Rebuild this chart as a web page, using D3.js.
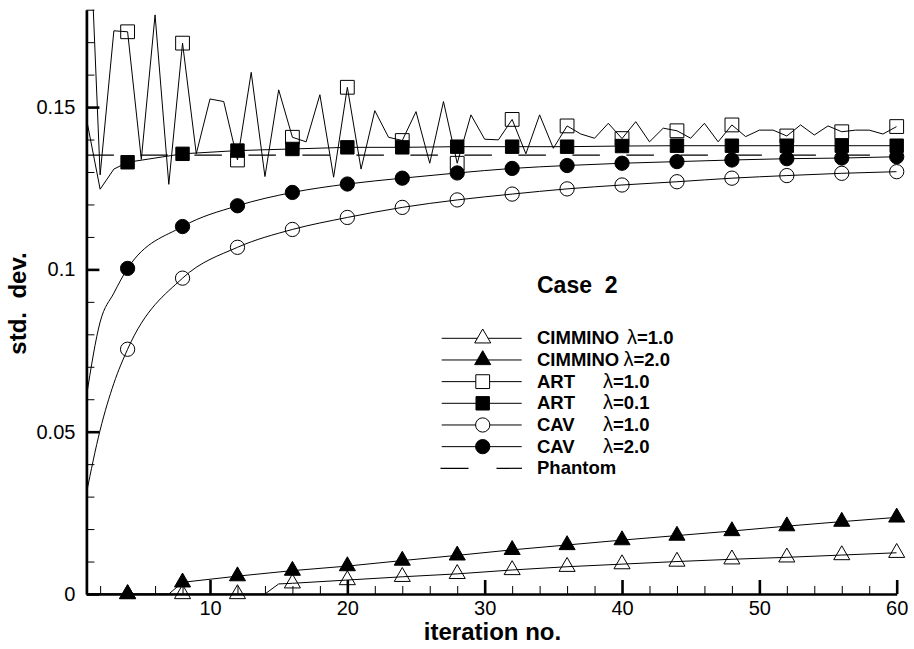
<!DOCTYPE html>
<html>
<head>
<meta charset="utf-8">
<script src="https://cdn.jsdelivr.net/npm/d3@7"></script>
<style>
  html, body { margin: 0; padding: 0; background: #fff; }
  svg { display: block; font-family: "Liberation Sans", Arial, Helvetica, sans-serif; }
  text { white-space: pre; }
</style>
</head>
<body>
<div class="chart"></div>
<script>
// iteration numbers of the sparse series
const cavIters = [1, 2, 3, 4, 8, 12, 16, 20, 24, 28, 32, 36, 40, 44, 48, 52, 56, 60];
const cim1Iters = [1, 4, 8, 12, 14, 15, 16, 20, 24, 28, 32, 36, 40, 44, 48, 52, 56, 60];
const cim2Iters = [1, 4, 7, 8, 12, 16, 20, 24, 28, 32, 36, 40, 44, 48, 52, 56, 60];
const artIters = d3.range(1, 61);
const phantomIters = [1, 60];

// std. dev. values
const cimmino1 = [0, 0, 0, 0, 0, 0.0031, 0.0033, 0.0043, 0.0053, 0.0062, 0.0074, 0.0084, 0.0092, 0.0100, 0.0107, 0.0113, 0.0120, 0.0127];
const cimmino2 = [0, 0, 0, 0.0036, 0.0055, 0.0072, 0.0086, 0.0103, 0.0119, 0.0136, 0.0151, 0.0166, 0.0180, 0.0194, 0.0209, 0.0223, 0.0236];
const art1 = [0.231, 0.1291, 0.1735, 0.1732, 0.1339, 0.1784, 0.1262, 0.1697, 0.1356, 0.1525,
  0.1517, 0.1337, 0.1607, 0.1286, 0.1553, 0.1407, 0.1393, 0.1538, 0.1284, 0.1561,
  0.1309, 0.1489, 0.1407, 0.1397, 0.1486, 0.1327, 0.1517, 0.1327, 0.1476, 0.1401,
  0.1399, 0.1462, 0.1356, 0.1476, 0.1373, 0.1442, 0.1417, 0.1404, 0.1450, 0.1403,
  0.1455, 0.1393, 0.1435, 0.1427, 0.1404, 0.1450, 0.1393, 0.1445, 0.1409, 0.1429,
  0.1429, 0.1411, 0.1445, 0.1414, 0.1442, 0.1424, 0.1429, 0.1429, 0.1417, 0.1440];
const art01 = [0.1465, 0.1247, 0.1309, 0.1330, 0.1356, 0.1366, 0.1371, 0.1376, 0.1376, 0.1378, 0.1378, 0.1378, 0.1380, 0.1381, 0.1381, 0.1381, 0.1381, 0.1381];
const cav1 = [0.031, 0.0505, 0.0649, 0.0754, 0.0973, 0.1068, 0.1123, 0.1160, 0.1191, 0.1214, 0.1232, 0.1248, 0.1260, 0.1270, 0.1281, 0.1289, 0.1296, 0.1301];
const cav2 = [0.0608, 0.0838, 0.0927, 0.1003, 0.1132, 0.1196, 0.1237, 0.1263, 0.1281, 0.1297, 0.1311, 0.1320, 0.1327, 0.1332, 0.1337, 0.1341, 0.1343, 0.1347];
const phantom = [0.1352, 0.1352];

// axis ticks
const xMajorTicks = [10, 20, 30, 40, 50, 60];
const xMinorTicks = [2, 4, 6, 8, 12, 14, 16, 18, 22, 24, 26, 28, 32, 34, 36, 38, 42, 44, 46, 48, 52, 54, 56, 58];
const yMajorTicks = [0, 0.05, 0.1, 0.15];
const yTickLabels = ["0", "0.05", "0.1", "0.15"];
const yMinorTicks = [0.01, 0.02, 0.03, 0.04, 0.06, 0.07, 0.08, 0.09, 0.11, 0.12, 0.13, 0.14, 0.16, 0.17, 0.18];

// legend texts
const legendNames = ["CIMMINO", "CIMMINO", "ART", "ART", "CAV", "CAV", "Phantom"];
const legendLambdas = ["λ=1.0", "λ=2.0", "λ=1.0", "λ=0.1", "λ=1.0", "λ=2.0", ""];

const width = 914;
const height = 649;

const svg = d3.select(".chart")
  .append("svg")
  .attr("width", width)
  .attr("height", height);

const x = d3.scaleLinear().domain([1, 60]).range([86.4, 896.7]);
const y = d3.scaleLinear().domain([0, 0.18]).range([594, 9.7]);

svg.append("defs").append("clipPath")
  .attr("id", "plot-clip")
  .append("rect")
  .attr("x", x(1))
  .attr("y", y(0.18))
  .attr("width", x(60) - x(1))
  .attr("height", y(0) - y(0.18));

const series = [
  { iters: cim1Iters, values: cimmino1, symbol: d3.symbolTriangle, size: 112, filled: false },
  { iters: cim2Iters, values: cimmino2, symbol: d3.symbolTriangle, size: 112, filled: true },
  { iters: artIters, values: art1, symbol: d3.symbolSquare, size: 190, filled: false },
  { iters: cavIters, values: art01, symbol: d3.symbolSquare, size: 180, filled: true },
  { iters: cavIters, values: cav1, symbol: d3.symbolCircle, size: 160, filled: false, smooth: true },
  { iters: cavIters, values: cav2, symbol: d3.symbolCircle, size: 160, filled: true, smooth: true }
];

const lineGroup = svg.append("g").attr("clip-path", "url(#plot-clip)");
const markerGroup = svg.append("g");

series.forEach((s) => {
  const pts = s.iters.map((it, i) => ({ it, v: s.values[i] }));
  const line = d3.line()
    .x(d => x(d.it))
    .y(d => y(d.v))
    .curve(s.smooth ? d3.curveMonotoneX : d3.curveLinear);

  lineGroup.append("path")
    .datum(pts)
    .attr("fill", "none")
    .attr("stroke", "#000")
    .attr("stroke-width", 1)
    .attr("d", line);

  markerGroup.append("g")
    .selectAll("path")
    .data(pts.filter(d => d.it % 4 === 0))
    .enter()
    .append("path")
    .attr("transform", d => `translate(${x(d.it)},${y(d.v)})`)
    .attr("d", d3.symbol().type(s.symbol).size(s.size))
    .attr("fill", s.filled ? "#000" : "none")
    .attr("stroke", "#000")
    .attr("stroke-width", 1);
});

// phantom reference level
lineGroup.append("path")
  .datum(phantomIters.map((it, i) => ({ it, v: phantom[i] })))
  .attr("fill", "none")
  .attr("stroke", "#000")
  .attr("stroke-width", 1.2)
  .attr("stroke-dasharray", "27.5,26.5")
  .attr("d", d3.line().x(d => x(d.it)).y(d => y(d.v)));

// axes
const styleAxis = (g, majorWidth) => {
  g.select(".domain").attr("stroke-width", 2.7);
  g.selectAll(".tick line").attr("stroke-width", majorWidth);
  g.selectAll(".tick text")
    .attr("fill", "#000")
    .style("font-size", "20px");
};

svg.append("g")
  .attr("transform", `translate(0,${y(0)})`)
  .call(d3.axisBottom(x).tickValues(xMinorTicks).tickSize(-8).tickSizeOuter(0).tickFormat(""))
  .call(g => g.select(".domain").remove())
  .call(g => g.selectAll(".tick line").attr("stroke-width", 1));

svg.append("g")
  .attr("transform", `translate(0,${y(0)})`)
  .call(d3.axisBottom(x).tickValues(xMajorTicks).tickSize(-14).tickSizeOuter(0).tickPadding(7))
  .call(g => styleAxis(g, 2.6));

svg.append("g")
  .attr("transform", `translate(${x(1)},0)`)
  .call(d3.axisLeft(y).tickValues(yMinorTicks).tickSize(-8).tickSizeOuter(0).tickFormat(""))
  .call(g => g.select(".domain").remove())
  .call(g => g.selectAll(".tick line").attr("stroke-width", 1));

svg.append("g")
  .attr("transform", `translate(${x(1)},0)`)
  .call(d3.axisLeft(y).tickValues(yMajorTicks).tickSize(-13).tickSizeOuter(0).tickPadding(11)
    .tickFormat((d, i) => yTickLabels[i]))
  .call(g => styleAxis(g, 2.6));

// axis titles
svg.append("text")
  .attr("x", 492.5)
  .attr("y", 640)
  .attr("text-anchor", "middle")
  .style("font-size", "24px")
  .style("font-weight", "700")
  .text("iteration no.");

svg.append("text")
  .attr("transform", "translate(26,303.5) rotate(-90)")
  .attr("text-anchor", "middle")
  .style("font-size", "24px")
  .style("font-weight", "700")
  .text("std.  dev.");

svg.append("text")
  .attr("x", 537)
  .attr("y", 293)
  .style("font-size", "23px")
  .style("font-weight", "700")
  .text("Case  2");

// legend
const legend = svg.append("g");
const rowY = (i) => 338.3 + i * 21.67;
const lambdaX = [627, 623.5, 603, 603, 603, 603, 603];

legendNames.forEach((name, i) => {
  const row = legend.append("g");
  if (i < 6) {
    row.append("line")
      .attr("x1", 441.7).attr("x2", 521.7)
      .attr("y1", rowY(i)).attr("y2", rowY(i))
      .attr("stroke", "#000")
      .attr("stroke-width", 1);
    const s = series[i];
    row.append("path")
      .attr("transform", `translate(482.7,${rowY(i)})`)
      .attr("d", d3.symbol().type(s.symbol).size(s.size))
      .attr("fill", s.filled ? "#000" : "#fff")
      .attr("stroke", "#000")
      .attr("stroke-width", 1);
  } else {
    row.append("line")
      .attr("x1", 440.5).attr("x2", 522)
      .attr("y1", rowY(i)).attr("y2", rowY(i))
      .attr("stroke", "#000")
      .attr("stroke-width", 1.2)
      .attr("stroke-dasharray", "28,28");
  }
  row.append("text")
    .attr("x", 537)
    .attr("y", rowY(i) + 6)
    .style("font-size", "18.5px")
    .style("font-weight", "700")
    .text(name);
  if (legendLambdas[i]) {
    const t = row.append("text")
      .attr("x", lambdaX[i])
      .attr("y", rowY(i) + 6)
      .style("font-size", "18.5px");
    t.append("tspan").style("font-weight", "400").style("font-size", "20px").text(legendLambdas[i].slice(0, 1));
    t.append("tspan").style("font-weight", "700").text(legendLambdas[i].slice(1));
  }
});
</script>
</body>
</html>
